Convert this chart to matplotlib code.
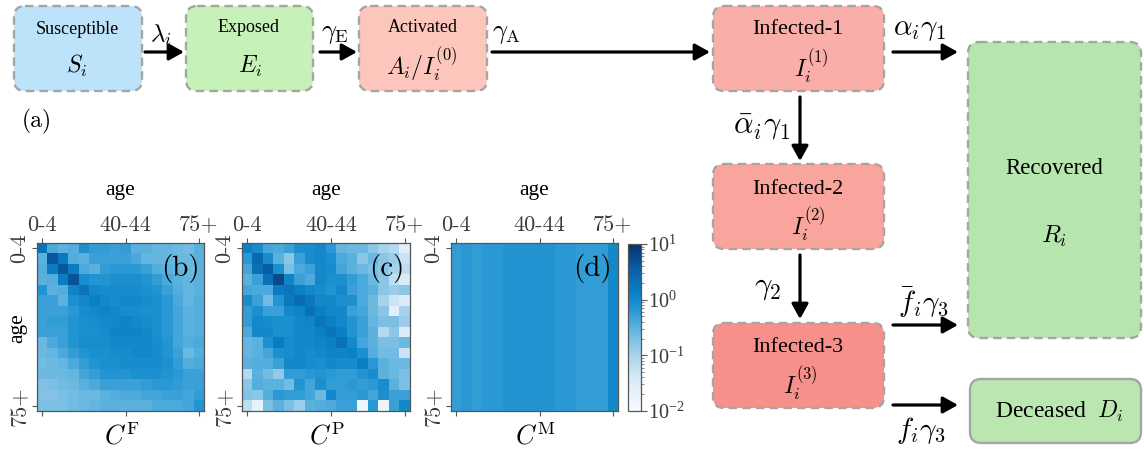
import numpy as np
import matplotlib
matplotlib.use("Agg")
import matplotlib.pyplot as plt
from matplotlib.patches import FancyBboxPatch
from matplotlib.colors import LogNorm, LinearSegmentedColormap

plt.rcParams['font.family'] = ['Liberation Serif', 'DejaVu Serif']
plt.rcParams['mathtext.fontset'] = 'cm'
plt.rcParams['axes.unicode_minus'] = False

# ---------------- data ----------------
age_ticks = [0, 8, 15]
age_ticklabels = ["0-4", "40-44", "75+"]
row_ticks = [0, 15]
row_ticklabels = ["0-4", "75+"]

CF_log10 = [
    [0.30, -0.40, -0.50, -0.45, -0.10, -0.25, -0.25, -0.30, -0.25, -0.50, -0.50, -0.55, -0.55, -0.60, -0.65, -0.50],
    [-0.50, 0.60, 0.20, -0.45, -0.50, -0.30, -0.30, -0.30, -0.30, -0.40, -0.55, -0.55, -0.55, -0.60, -0.60, -0.50],
    [-0.45, 0.15, 0.60, 0.15, -0.40, -0.50, -0.25, -0.20, -0.20, -0.20, -0.30, -0.45, -0.50, -0.55, -0.60, -0.50],
    [-0.50, -0.45, 0.15, 0.65, -0.05, -0.15, -0.15, -0.10, -0.10, -0.10, -0.15, -0.25, -0.40, -0.50, -0.55, -0.50],
    [-0.15, -0.50, -0.45, 0.05, 0.25, 0.00, -0.05, -0.05, -0.05, -0.05, -0.10, -0.15, -0.30, -0.45, -0.55, -0.50],
    [-0.30, -0.30, -0.50, -0.10, 0.00, 0.10, 0.00, -0.05, 0.00, 0.00, -0.05, -0.10, -0.20, -0.40, -0.55, -0.45],
    [-0.30, -0.30, -0.30, -0.20, -0.05, 0.00, 0.05, 0.00, -0.05, -0.05, -0.10, -0.10, -0.20, -0.35, -0.50, -0.45],
    [-0.30, -0.25, -0.25, -0.15, -0.10, -0.05, 0.00, 0.00, 0.05, 0.00, -0.05, -0.10, -0.20, -0.35, -0.50, -0.45],
    [-0.30, -0.30, -0.30, -0.15, -0.10, -0.10, -0.05, 0.05, 0.05, 0.05, 0.00, -0.10, -0.20, -0.35, -0.50, -0.45],
    [-0.60, -0.40, -0.30, -0.15, -0.05, -0.05, -0.05, 0.00, 0.00, 0.00, 0.00, -0.05, -0.15, -0.35, -0.45, -0.40],
    [-0.60, -0.55, -0.40, -0.25, -0.15, -0.10, -0.10, -0.05, -0.05, 0.00, 0.00, -0.05, -0.15, -0.30, -0.60, -0.45],
    [-0.65, -0.60, -0.55, -0.40, -0.25, -0.15, -0.10, -0.10, -0.05, -0.05, -0.05, -0.05, -0.10, -0.25, -0.45, -0.40],
    [-0.60, -0.60, -0.60, -0.55, -0.35, -0.25, -0.15, -0.15, -0.15, -0.10, -0.10, -0.10, -0.15, -0.20, -0.30, -0.30],
    [-0.75, -0.70, -0.65, -0.60, -0.50, -0.40, -0.30, -0.30, -0.30, -0.30, -0.25, -0.20, -0.20, -0.25, -0.30, -0.30],
    [-0.75, -0.75, -0.70, -0.65, -0.60, -0.60, -0.50, -0.45, -0.40, -0.40, -0.35, -0.35, -0.30, -0.30, -0.35, -0.25],
    [-0.70, -0.70, -0.70, -0.65, -0.60, -0.55, -0.50, -0.50, -0.50, -0.50, -0.50, -0.40, -0.40, -0.40, -0.35, -0.15],
]

CP_log10 = [
    [0.10, -0.05, -0.35, -0.40, -0.30, -0.10, -0.05, 0.00, -0.20, -0.55, -0.60, -0.60, -0.80, -1.00, -1.10, -1.60],
    [-0.20, 0.40, -0.05, -0.50, -0.80, -0.30, -0.05, 0.00, -0.10, -0.40, -0.50, -0.80, -0.60, -0.80, -0.90, -1.30],
    [-0.35, 0.30, 0.55, -0.10, -0.70, -0.40, -0.30, 0.00, -0.05, -0.35, -0.50, -0.60, -0.70, -0.80, -1.00, -1.20],
    [-0.50, -0.30, 0.30, 0.75, 0.05, -0.30, -0.40, 0.00, -0.10, -0.10, -0.25, -0.40, -0.60, -0.80, -1.20, -1.50],
    [-0.35, -0.40, -0.40, 0.15, 0.25, 0.10, 0.00, -0.05, -0.15, 0.00, -0.30, -0.40, -0.50, -0.80, -0.90, -0.80],
    [-0.05, -0.30, -0.65, -0.15, 0.20, 0.35, 0.20, 0.00, 0.00, -0.10, -0.10, -0.40, -0.60, -1.00, -1.30, -1.50],
    [-0.25, -0.10, -0.30, -0.30, 0.00, 0.05, 0.30, 0.10, 0.00, 0.00, -0.30, -0.35, -0.60, -0.80, -1.60, -1.00],
    [-0.25, 0.00, -0.05, -0.10, -0.10, 0.00, 0.05, 0.25, 0.10, 0.00, -0.15, -0.30, -0.55, -0.70, -0.70, -0.90],
    [-0.40, 0.00, 0.00, -0.10, -0.10, 0.00, 0.00, 0.10, 0.25, 0.10, -0.15, -0.30, -0.50, -1.10, -0.80, -1.50],
    [-0.55, -0.50, -0.10, 0.15, -0.05, 0.00, 0.00, 0.05, 0.10, 0.30, 0.00, -0.35, -0.50, -0.70, -0.70, -0.60],
    [-0.55, -0.50, -0.35, -0.10, -0.05, 0.00, -0.05, 0.00, 0.05, 0.05, 0.10, -0.10, -0.45, -0.65, -0.65, -1.30],
    [-0.50, -0.45, -0.45, -0.30, 0.00, 0.00, -0.05, -0.10, 0.00, -0.05, -0.05, 0.10, -0.20, -0.50, -0.60, -0.60],
    [-1.10, -0.50, -0.65, -0.85, -0.25, -0.25, -0.20, -0.15, -0.20, -0.25, -0.25, -0.15, -0.05, -0.50, -0.60, -0.70],
    [-0.80, -0.45, -0.50, -0.50, -0.65, -0.15, -0.35, -0.10, -0.25, -0.25, -0.20, -0.25, -0.20, -0.05, -0.50, -0.70],
    [-0.75, -0.80, -0.45, -0.20, -0.25, -0.25, -0.35, -0.60, 0.00, -0.25, -0.25, -0.20, -0.35, -0.10, -0.30, -0.30],
    [-1.20, -1.70, -0.70, -0.50, -0.70, -0.90, -0.50, -0.45, -0.40, -0.30, -0.30, -1.80, -0.20, -1.80, -0.30, 0.00],
]

CM_col_log10 = [-0.25, -0.20, -0.25, -0.20, -0.20, -0.15, -0.15, -0.15,
                -0.15, -0.15, -0.20, -0.20, -0.25, -0.25, -0.25, 0.00]

CF = 10.0 ** np.array(CF_log10)
CP = 10.0 ** np.array(CP_log10)
CM = 10.0 ** np.tile(np.array(CM_col_log10), (16, 1))

# ---------------- figure ----------------
W, H = 1144, 449
fig = plt.figure(figsize=(W / 100, H / 100), dpi=100)
ax = fig.add_axes([0, 0, 1, 1])
ax.set_xlim(0, W)
ax.set_ylim(H, 0)
ax.axis('off')

EDGE = '#a5a5a5'
CMR = 'cmr10'


def box(x0, y0, x1, y1, fc, dashed=True):
    p = FancyBboxPatch((x0, y0), x1 - x0, y1 - y0,
                       boxstyle="round,pad=0,rounding_size=11",
                       fc=fc, ec=EDGE, lw=1.7,
                       ls=(0, (3.6, 2.2)) if dashed else '-', zorder=1)
    ax.add_patch(p)


def arrow(x0, y0, x1, y1):
    ax.annotate('', xy=(x1, y1), xytext=(x0, y0),
                arrowprops=dict(arrowstyle='-|>,head_length=0.45,head_width=0.25',
                                lw=2.3, color='k', shrinkA=0, shrinkB=0,
                                mutation_scale=20), zorder=3)


def txt(x, y, s, fs, **kw):
    ax.text(x, y, s, ha='center', va='center', fontsize=fs, **kw)


# first row
box(14, 6, 142, 91, '#bde3fb')
txt(77, 30, 'Susceptible', 13)
txt(77, 66, r'$S_i$', 17)

box(186, 6, 313, 91, '#c6f1b8')
txt(249, 28, 'Exposed', 13)
txt(250, 66, r'$E_i$', 17)

box(359, 6, 487, 91, '#fdc6bc')
txt(423, 27, 'Activated', 13)
txt(422, 65, r'$A_i/I_i^{(0)}$', 17)

# infected column
box(713, 6, 884, 91, '#f9aea9')
txt(798, 30, 'Infected-1', 16)
txt(811, 67, r'$I_i^{(1)}$', 17)

box(713, 164, 884, 249, '#f9a59e')
txt(798, 189, 'Infected-2', 16)
txt(808, 225, r'$I_i^{(2)}$', 17)

box(713, 323, 884, 408, '#f7908a')
txt(798, 348, 'Infected-3', 16)
txt(800, 384, r'$I_i^{(3)}$', 17)

box(968, 42, 1141, 338, '#b6e6ae')
txt(1054, 168, 'Recovered', 16.5)
txt(1054, 236, r'$R_i$', 18)

box(970, 379, 1141, 443, '#b9e7af', dashed=False)
txt(1059, 411, r'Deceased  $D_i$', 17)

txt(37, 121, '(a)', 17, family=CMR)

# arrows and rates
arrow(145, 52, 184, 52)
txt(161, 35, r'$\lambda_i$', 18)
arrow(320, 52, 357, 52)
txt(335, 35, r'$\gamma_{\mathrm{E}}$', 19)
arrow(492, 52, 710, 52)
txt(506, 35, r'$\gamma_{\mathrm{A}}$', 19)
arrow(893, 52, 958, 52)
txt(920, 30, r'$\alpha_i\gamma_1$', 21)
arrow(800, 97, 800, 161)
txt(761, 127, r'$\bar{\alpha}_i\gamma_1$', 22)
arrow(800, 255, 800, 319)
txt(768, 287, r'$\gamma_2$', 22)
arrow(893, 325, 958, 325)
txt(923, 302, r'$\bar{f}_i\gamma_3$', 21)
arrow(893, 405, 958, 405)
txt(921, 430, r'$f_i\gamma_3$', 21)

# ---------------- matrices ----------------
cmap = LinearSegmentedColormap.from_list('cb', [
    (0.0, '#f7fbff'), (0.2, '#d6e9f7'), (0.35, '#a2d0ea'), (0.5, '#5cb2df'),
    (0.62, '#2193d2'), (0.7, '#0a82c6'), (0.85, '#0a5ea6'), (1.0, '#08306b')])
norm = LogNorm(vmin=1e-2, vmax=1e1)


def pax(x0, y0, x1, y1):
    return fig.add_axes([x0 / W, 1 - y1 / H, (x1 - x0) / W, (y1 - y0) / H])


TICKC = '#3a3a3a'
panels = [((37, 243, 204, 411), CF, '(b)', r'$C^{\mathrm{F}}$', 0.976),
          ((242, 243, 410, 411), CP, '(c)', r'$C^{\mathrm{P}}$', 0.97),
          ((451, 243, 618, 411), CM, '(d)', r'$C^{\mathrm{M}}$', 0.965)]
for i, (rect, M, lab, xl, lx) in enumerate(panels):
    a = pax(*rect)
    im = a.imshow(M, cmap=cmap, norm=norm, aspect='auto', interpolation='nearest')
    a.set_xticks(age_ticks)
    a.set_xticklabels(age_ticklabels, fontsize=16, color=TICKC, family=CMR)
    a.set_yticks(row_ticks)
    a.set_yticklabels(row_ticklabels, fontsize=16, color=TICKC, family=CMR,
                      rotation=90, va='center')
    a.tick_params(top=True, labeltop=True, bottom=True, labelbottom=False,
                  length=3.5, width=0.8, color='#555555', pad=2)
    for s in a.spines.values():
        s.set_color('#555555')
        s.set_linewidth(0.9)
    a.text(lx, 0.85, lab, transform=a.transAxes, ha='right', va='center',
           fontsize=21, family=CMR)
    cx = (rect[0] + rect[2]) / 2
    txt(cx, 190, 'age', 15.5, zorder=5)
    txt(cx + 1, 436, xl, 19, zorder=5)

txt(18, 328, 'age', 15.5, rotation=90, zorder=5)

cax = pax(628, 244, 641, 411)
cb = fig.colorbar(im, cax=cax)
cb.ax.tick_params(labelsize=14.5, color='#555555', length=4, width=0.8, labelcolor=TICKC, pad=1)
cb.ax.tick_params(which='minor', length=2, color='#777777')
cb.outline.set_edgecolor('#555555')
cb.outline.set_linewidth(0.9)

fig.savefig('out.png', dpi=100)
